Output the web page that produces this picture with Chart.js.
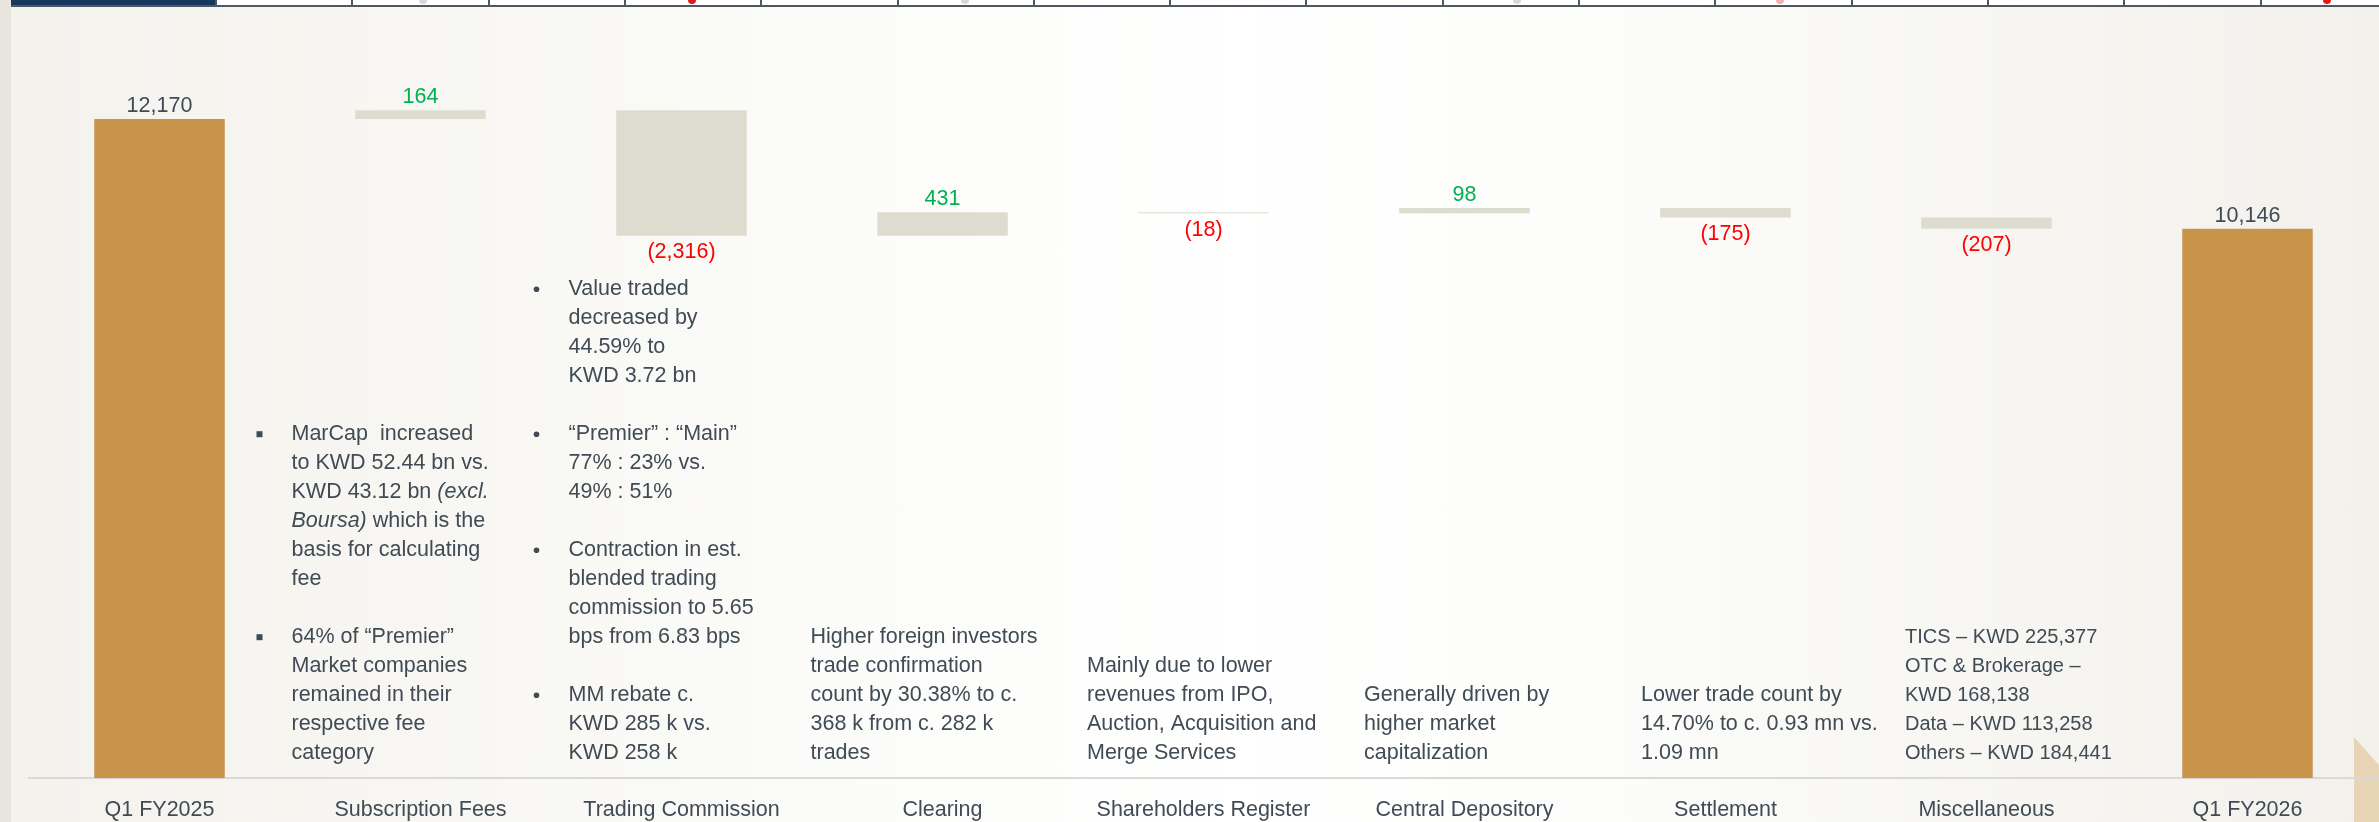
<!DOCTYPE html>
<html><head><meta charset="utf-8">
<script src="https://cdn.jsdelivr.net/npm/chart.js@4.4.1/dist/chart.umd.min.js"></script>
<style>
html,body{margin:0;padding:0;width:2379px;height:822px;overflow:hidden;}
body{position:relative;background:linear-gradient(90deg,#f3f2ed 0%,#f7f6f2 16%,#fbfbf9 34%,#ffffff 52%,#fcfcfa 68%,#f6f5f1 86%,#f2f1ec 100%);}
#leftStrip{position:absolute;left:0;top:0;width:11px;height:822px;background:#e7e5dd;}
#topBar{position:absolute;left:11px;top:0;width:2368px;height:5px;background:#ffffff;border-bottom:2px solid #4d5863;}
#navy{position:absolute;left:11px;top:0;width:205px;height:5px;background:#17375e;}
.tk{position:absolute;top:0;width:2px;height:7px;background:#4d5863;}
.dot{position:absolute;top:-4px;width:8px;height:8px;border-radius:50%;}
#tri{position:absolute;left:2354px;top:737px;width:25px;height:85px;background:#e8d5b5;clip-path:polygon(0 0,100% 33%,100% 100%,0 100%);}
canvas{position:absolute;left:0;top:0;}
</style></head>
<body>
<div id="leftStrip"></div>
<div id="topBar"></div>
<div id="navy"></div>
<div id="tri"></div>
<canvas id="c" width="2379" height="822"></canvas>
<script>
// ---------- data ----------
const categories = ['Q1 FY2025','Subscription Fees','Trading Commission','Clearing','Shareholders Register','Central Depository','Settlement','Miscellaneous','Q1 FY2026'];
const openingTotal = 12170;
const changes = [164, -2316, 431, -18, 98, -175, -207];
const closingTotal = 10146;

const noteSubscription = ['\u25AA MarCap  increased','to KWD 52.44 bn vs.','KWD 43.12 bn *(excl.*','*Boursa)* which is the','basis for calculating','fee','','\u25AA 64% of \u201CPremier\u201D','Market companies','remained in their','respective fee','category'];
const noteTrading = ['\u2022 Value traded','decreased by','44.59% to','KWD 3.72 bn','','\u2022 \u201CPremier\u201D : \u201CMain\u201D','77% : 23% vs.','49% : 51%','','\u2022 Contraction in est.','blended trading','commission to 5.65','bps from 6.83 bps','','\u2022 MM rebate c.','KWD 285 k vs.','KWD 258 k'];
const noteClearing = ['Higher foreign investors','trade confirmation','count by 30.38% to c.','368 k from c. 282 k','trades'];
const noteShareholders = ['Mainly due to lower','revenues from IPO,','Auction, Acquisition and','Merge Services'];
const noteCentral = ['Generally driven by','higher market','capitalization'];
const noteSettlement = ['Lower trade count by','14.70% to c. 0.93 mn vs.','1.09 mn'];
const noteMisc = ['TICS \u2013 KWD 225,377','OTC & Brokerage \u2013','KWD 168,138','Data \u2013 KWD 113,258','Others \u2013 KWD 184,441'];
const notes = [null, noteSubscription, noteTrading, noteClearing, noteShareholders, noteCentral, noteSettlement, noteMisc, null];

// ---------- decorations (top strip) ----------
(function(){
  for (let i = 0; i < 16; i++) {
    const d = document.createElement('div'); d.className = 'tk';
    d.style.left = (215 + i * 136.3) + 'px'; document.body.appendChild(d);
  }
  [[688,'#e01b1b'],[1776,'#f3b0b0'],[2323,'#e01b1b'],[419,'#d8d8d8'],[961,'#d8d8d8'],[1513,'#d8d8d8']].forEach(([x,c])=>{
    const d = document.createElement('div'); d.className='dot'; d.style.left=x+'px'; d.style.background=c; document.body.appendChild(d);
  });
})();

// ---------- build waterfall from data ----------
const barData = [], barKinds = [];
let running = openingTotal;
barData.push([0, openingTotal]); barKinds.push('total');
changes.forEach(v => { barData.push([running, running + v]); running += v; barKinds.push(v >= 0 ? 'up' : 'down'); });
barData.push([0, closingTotal]); barKinds.push('total');
const labelValues = [openingTotal, ...changes, closingTotal];

const FONT = '"Liberation Sans", Arial, sans-serif';
const TEXT = '#404b55';
const fmt = v => Math.abs(v).toLocaleString('en-US');

const noteLayout = [null,{dx:-129,size:21.5},{dx:-113,size:21.5},{dx:-132,size:21.5},{dx:-116.5,size:21.5},{dx:-100.5,size:21.5},{dx:-84.5,size:21.5},{dx:-81.5,size:20},null];

const labelPlugin = {
  id: 'wfLabels',
  afterDatasetsDraw(chart) {
    const ctx = chart.ctx, meta = chart.getDatasetMeta(0), area = chart.chartArea;
    ctx.save();
    ctx.textBaseline = 'middle';
    ctx.textAlign = 'center';
    ctx.font = '21.5px ' + FONT;
    meta.data.forEach((el, i) => {
      const top = Math.min(el.y, el.base), bot = Math.max(el.y, el.base);
      const k = barKinds[i], v = labelValues[i];
      if (k === 'down') { ctx.fillStyle = '#ff0000'; ctx.fillText('(' + fmt(v) + ')', el.x, bot + 16.5); }
      else { ctx.fillStyle = k === 'up' ? '#00b050' : TEXT; ctx.fillText(fmt(v), el.x, top - 13); }
    });
    // notes
    ctx.textAlign = 'left';
    const xs = chart.scales.x;
    notes.forEach((lines, i) => {
      if (!lines) return;
      const L = noteLayout[i];
      const x0 = xs.getPixelForValue(i) + L.dx;
      const lh = 29, yLast = area.bottom - 25;
      lines.forEach((line, j) => {
        const y = yLast - (lines.length - 1 - j) * lh;
        if (!line) return;
        let txt = line;
        ctx.fillStyle = TEXT;
        if (txt.startsWith('\u25AA ')) { ctx.fillRect(x0 - 35, y - 3, 6, 6); txt = txt.slice(2); }
        else if (txt.startsWith('\u2022 ')) { ctx.beginPath(); ctx.arc(x0 - 32, y, 2.8, 0, Math.PI * 2); ctx.fill(); txt = txt.slice(2); }
        const segs = txt.split('*');
        let x = x0;
        segs.forEach((s, si) => {
          ctx.font = (si % 2 ? 'italic ' : '') + L.size + 'px ' + FONT;
          ctx.fillText(s, x, y);
          x += ctx.measureText(s).width;
        });
      });
    });
    ctx.restore();
  }
};

new Chart(document.getElementById('c'), {
  type: 'bar',
  data: {
    labels: categories,
    datasets: [{
      data: barData,
      backgroundColor: barKinds.map(k => k === 'total' ? '#c8944a' : '#dedccf'),
      borderWidth: 0,
      barPercentage: 0.5,
      categoryPercentage: 1.0,
      borderSkipped: false
    }]
  },
  options: {
    responsive: false,
    devicePixelRatio: 1,
    animation: false,
    layout: { autoPadding: false, padding: { left: 29, right: 1, top: 20, bottom: -20 } },
    plugins: { legend: { display: false }, tooltip: { enabled: false } },
    scales: {
      x: {
        grid: { display: false, drawTicks: false },
        border: { display: true, color: '#d9d9d9', width: 2 },
        ticks: { color: TEXT, font: { family: FONT, size: 21.5 }, padding: 19, maxRotation: 0, autoSkip: false }
      },
      y: { display: false, min: 0, max: 14000 }
    }
  },
  plugins: [labelPlugin]
});
</script>
</body></html>
